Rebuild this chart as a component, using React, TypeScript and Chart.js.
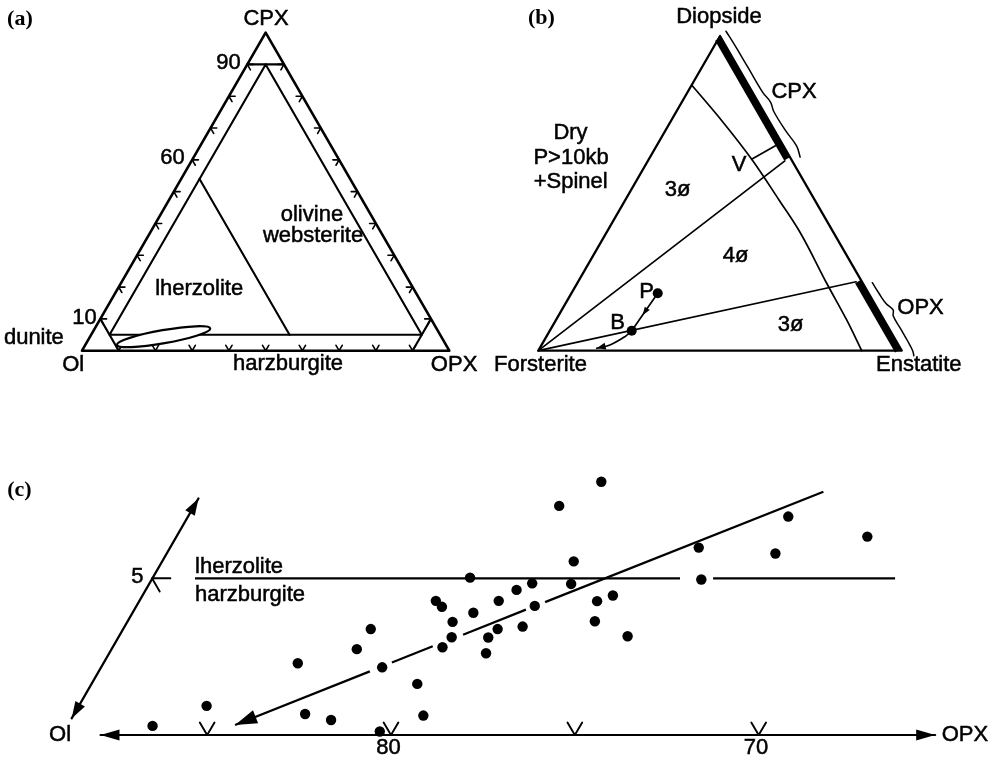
import React, { useEffect, useRef } from "react";
import { Chart, registerables } from "chart.js";

Chart.register(...registerables);

const SQ = Math.sqrt(3) / 2;
const FONT = '"Liberation Sans", Arial, Helvetica, sans-serif';
const SERIF = '"Liberation Serif", "Times New Roman", serif';

// ================= Panel (a): Ol–OPX–CPX ternary, points are [OPX %, CPX %]
const aTriangle = [[0, 0], [100, 0], [0, 100], [0, 0]];
const aCpx90Line = [[0, 90], [10, 90]];
const aInnerTriangle = [[5, 90], [5, 5], [90, 5], [5, 90]]; // OPX=5, CPX=5, Ol=5
const aDuniteLine = [[0, 10], [10, 0]]; // Ol = 90
const aOrthoLine = [[90, 0], [90, 10]]; // OPX = 90
const aLherzoliteLine = [[5, 54], [54, 5]]; // Ol = 41
const aTickValues = [10, 20, 30, 40, 50, 60, 70, 80, 90];
const aEllipse = { opx: 20, cpx: 4.4, major: 12.9, minor: 1.8, angle: -10 };
const aLabels = [
  { t: "(a)", x: -20.4, y: 90.3, align: "left", serif: true },
  { t: "CPX", x: 50.1, y: 90.3 },
  { t: "90", x: 43.2, y: 78.3, align: "right" },
  { t: "60", x: 28.0, y: 52.6, align: "right" },
  { t: "10", x: 4.0, y: 9.0, align: "right" },
  { t: "dunite", x: -13.1, y: 3.6 },
  { t: "Ol", x: -2.4, y: -3.9 },
  { t: "harzburgite", x: 56.1, y: -3.6 },
  { t: "OPX", x: 101.3, y: -3.9 },
  { t: "lherzolite", x: 31.9, y: 16.8 },
  { t: "olivine", x: 62.6, y: 37.0 },
  { t: "websterite", x: 62.9, y: 31.2 },
];

// ================= Panel (b): Fo–En–Di, points are [En %, Di %]
const bTriangle = [[0, 0], [100, 0], [0, 100], [0, 0]];
const bBoundary = [[0, 84.4], [14.06, 72.99], [28.31, 60.82], [42.29, 47.89], [53.75, 37.08], [68.65, 21.42], [79.98, 9.76], [89, 0]];
const bTieCpx = [[0, 0], [37.7, 60.3]];
const bTieOpx = [[0, 0], [76.5, 21.9]];
const bTieV = [[28.3, 60.8], [32.7, 65.1]];
const bCpxBar = [[0, 99], [38, 61]];
const bOpxBar = [[99, 0], [77, 22]];
const bPointP = [23.74, 18.24];
const bPointB = [22.53, 6.35];
const bPathBase = [[22.53, 6.35], [21.6, 4.45], [18.8, 1.81], [15.7, 0.76]];
const bArrowMid = [23.06, 11.34];
const bCpxBrace = [[0.9, 101.5], [5.6, 97], [12.7, 90], [20.8, 82], [24.4, 79], [26.8, 76], [33, 70], [38.6, 65], [41.3, 61.5]];
const bOpxBrace = [[81.1, 21.6], [84.86, 18], [88.18, 15], [91.13, 13], [92.18, 11], [96.18, 7], [100.18, 3], [103.02, 0], [104.14, -1.6]];
const bLabels = [
  { t: "(b)", x: -2.83, y: 91.55, align: "left", serif: true },
  { t: "Diopside", x: 49.72, y: 91.83 },
  { t: "Dry", x: 8.86, y: 59.91 },
  { t: "P>10kb", x: 9.0, y: 53.03 },
  { t: "+Spinel", x: 8.92, y: 46.42 },
  { t: "CPX", x: 70.36, y: 71.27 },
  { t: "V", x: 55.23, y: 51.1 },
  { t: "3ø", x: 38.31, y: 44.22 },
  { t: "4ø", x: 54.27, y: 26.06 },
  { t: "3ø", x: 69.4, y: 7.21 },
  { t: "P", x: 29.77, y: 16.15 },
  { t: "B", x: 21.79, y: 7.76 },
  { t: "OPX", x: 105.17, y: 11.75 },
  { t: "Forsterite", x: 0.61, y: -3.91 },
  { t: "Enstatite", x: 104.7, y: -3.91 },
];

// ================= Panel (c): enlarged Ol corner, points are [Ol %, CPX %]
const cOl = [86.34, 84.55, 81.39, 82.0, 81.39, 80.25, 78.86, 79.56, 79.16, 78.47, 78.81, 76.64, 76.57, 76.52, 76.79, 77.2, 75.34, 75.81, 75.8, 76.11, 75.41, 74.93, 74.27, 74.69, 73.74, 74.03, 71.77, 72.26, 72.69, 70.24, 72.26, 71.74, 72.64, 71.99, 68.64, 69.08, 65.71, 66.65, 63.88];
const cCpx = [0.29, 0.93, 2.29, 0.67, 0.48, 0.11, 3.38, 2.74, 2.16, 1.63, 0.62, 4.28, 4.09, 3.61, 3.12, 2.8, 5.02, 3.9, 3.11, 2.61, 3.38, 4.28, 4.63, 3.46, 4.84, 4.12, 7.31, 5.54, 4.82, 8.08, 4.27, 4.45, 3.63, 3.15, 5.98, 4.96, 6.97, 5.79, 6.33];
const cBaseAxis = [[87.9, 0], [65.2, 0]];
const cDiagAxis = [[88.42, 0.53], [81.46, 7.55]];
const cTrendSegments = [
  [[84.08, 0.32], [79.56, 2.03]],
  [[78.82, 2.31], [77.45, 2.83]],
  [[76.44, 3.2], [74.33, 4.0]],
  [[73.69, 4.24], [64.36, 7.76]],
];
const cBoundarySegments = [
  [[82.83, 5], [69.64, 5]],
  [[68.74, 5], [63.79, 5]],
];
const cAxisTicks = [85, 80, 75, 70];
const cAxisTickLabels = ["", "80", "", "70"];
const cCpxTick = { ol: 84, cpx: 5, label: "5" };
const cLabels = [
  { t: "(c)", x: 9.56, y: 7.82, align: "left", serif: true },
  { t: "lherzolite", x: 14.67, y: 5.37, align: "left" },
  { t: "harzburgite", x: 14.67, y: 4.47, align: "left" },
  { t: "Ol", x: 11.0, y: 0 },
  { t: "OPX", x: 35.61, y: 0 },
];

// ---------------- helpers
type P = { x: number; y: number };
const triA = (p: number[]): P => ({ x: p[0] + p[1] / 2, y: p[1] * SQ });
const triB = triA;
const triC = (p: number[]): P => ({ x: 100 - p[0] - p[1] / 2, y: p[1] });

function line(points: P[], width: number, extra: any = {}) {
  return {
    data: points,
    showLine: true,
    borderColor: "#000",
    borderWidth: width,
    pointRadius: 0,
    pointHoverRadius: 0,
    fill: false,
    tension: 0,
    borderCapStyle: "round",
    borderJoinStyle: "round",
    ...extra,
  };
}

function dots(points: P[], r: number) {
  return {
    data: points,
    showLine: false,
    pointRadius: r,
    pointHoverRadius: r,
    pointBackgroundColor: "#000",
    pointBorderWidth: 0,
    pointBorderColor: "#000",
  };
}

function labelPlugin(labels: any[]) {
  return {
    id: "labels",
    afterDatasetsDraw(chart: any) {
      const { ctx, scales } = chart;
      ctx.save();
      ctx.fillStyle = "#000";
      ctx.strokeStyle = "#000";
      ctx.lineWidth = 0.5;
      ctx.textBaseline = "middle";
      for (const l of labels) {
        ctx.font = l.serif ? `bold 22px ${SERIF}` : `22px ${FONT}`;
        ctx.textAlign = l.align || "center";
        const px = scales.x.getPixelForValue(l.x);
        const py = scales.y.getPixelForValue(l.y);
        ctx.fillText(l.t, px, py);
        if (!l.serif) ctx.strokeText(l.t, px, py);
      }
      ctx.restore();
    },
  };
}

function arrowPlugin(arrows: { tip: P; from: P; len: number; half: number }[]) {
  return {
    id: "arrows",
    afterDatasetsDraw(chart: any) {
      const { ctx, scales } = chart;
      ctx.save();
      ctx.fillStyle = "#000";
      for (const a of arrows) {
        const tx = scales.x.getPixelForValue(a.tip.x);
        const ty = scales.y.getPixelForValue(a.tip.y);
        const fx = scales.x.getPixelForValue(a.from.x);
        const fy = scales.y.getPixelForValue(a.from.y);
        const d = Math.hypot(tx - fx, ty - fy) || 1;
        const ux = (tx - fx) / d;
        const uy = (ty - fy) / d;
        const bx = tx - ux * a.len;
        const by = ty - uy * a.len;
        ctx.beginPath();
        ctx.moveTo(tx, ty);
        ctx.lineTo(bx - uy * a.half, by + ux * a.half);
        ctx.lineTo(bx + uy * a.half, by - ux * a.half);
        ctx.closePath();
        ctx.fill();
      }
      ctx.restore();
    },
  };
}

function baseOptions(xmin: number, xmax: number, ymin: number, ymax: number) {
  return {
    animation: false,
    responsive: false,
    events: [],
    layout: { padding: 0, autoPadding: false },
    plugins: { legend: { display: false }, tooltip: { enabled: false } },
    scales: {
      x: { type: "linear", display: false, min: xmin, max: xmax },
      y: { type: "linear", display: false, min: ymin, max: ymax },
    },
  };
}

// ---------------- panel configs
function makeA(): any {
  const TICK = 1.7;
  const ds: any[] = [];
  ds.push(line(aTriangle.map(triA), 2.6));
  ds.push(line(aCpx90Line.map(triA), 2.2));
  ds.push(line(aInnerTriangle.map(triA), 2.1));
  ds.push(line(aDuniteLine.map(triA), 2.1));
  ds.push(line(aOrthoLine.map(triA), 2.1));
  ds.push(line(aLherzoliteLine.map(triA), 2.1));
  for (const c of aTickValues) {
    ds.push(line([[TICK, c], [0, c], [TICK, c - TICK]].map(triA), 1.6));
    ds.push(line([[100 - c - TICK, c], [100 - c, c], [100 - c, c - TICK]].map(triA), 1.6));
    ds.push(line([[c - TICK, TICK], [c, 0], [c, TICK]].map(triA), 1.6));
  }
  const ellipsePlugin = {
    id: "ellipse",
    afterDatasetsDraw(chart: any) {
      const { ctx, scales } = chart;
      const c = triA([aEllipse.opx, aEllipse.cpx]);
      const cx = scales.x.getPixelForValue(c.x);
      const cy = scales.y.getPixelForValue(c.y);
      const unit = Math.abs(scales.x.getPixelForValue(1) - scales.x.getPixelForValue(0));
      ctx.save();
      ctx.beginPath();
      ctx.ellipse(cx, cy, aEllipse.major * unit, aEllipse.minor * unit, (aEllipse.angle * Math.PI) / 180, 0, Math.PI * 2);
      ctx.fillStyle = "#fff";
      ctx.fill();
      ctx.lineWidth = 2.3;
      ctx.strokeStyle = "#000";
      ctx.stroke();
      ctx.restore();
    },
  };
  return {
    type: "scatter",
    data: { datasets: ds },
    options: baseOptions(-22.325, 111.08, -13.42, 95.48),
    plugins: [ellipsePlugin, labelPlugin(aLabels)],
  };
}

function makeB(): any {
  const ds: any[] = [];
  ds.push(dots([triB(bPointP), triB(bPointB)], 5));
  ds.push(line(bTriangle.map(triB), 2.3));
  ds.push(line(bBoundary.map(triB), 1.7, { tension: 0.35 }));
  ds.push(line(bTieCpx.map(triB), 1.7));
  ds.push(line(bTieOpx.map(triB), 1.7));
  ds.push(line(bTieV.map(triB), 1.7));
  ds.push(line(bCpxBar.map(triB), 7, { borderCapStyle: "butt" }));
  ds.push(line(bOpxBar.map(triB), 7, { borderCapStyle: "butt" }));
  ds.push(line([bPointP, bPointB].map(triB), 1.7));
  ds.push(line(bPathBase.map(triB), 1.7, { tension: 0.4 }));
  ds.push(line(bCpxBrace.map(triB), 1.5, { tension: 0.4 }));
  ds.push(line(bOpxBrace.map(triB), 1.5, { tension: 0.4 }));
  const last = bPathBase[bPathBase.length - 1];
  const prev = bPathBase[bPathBase.length - 2];
  const arrows = [
    { tip: triB(bArrowMid), from: triB(bPointP), len: 8, half: 3 },
    { tip: triB(last), from: triB(prev), len: 9, half: 3.5 },
  ];
  return {
    type: "scatter",
    data: { datasets: ds },
    options: baseOptions(-13.29, 125.12, -13.57, 96.5),
    plugins: [arrowPlugin(arrows), labelPlugin(bLabels)],
  };
}

function makeC(): any {
  const ds: any[] = [];
  const pts = cOl.map((o, i) => triC([o, cCpx[i]]));
  ds.push(dots(pts, 5.2));
  ds.push(line(cBaseAxis.map(triC), 2.2));
  ds.push(line(cDiagAxis.map(triC), 2.2));
  for (const s of cTrendSegments) ds.push(line(s.map(triC), 2.2, { borderCapStyle: "butt" }));
  for (const s of cBoundarySegments) ds.push(line(s.map(triC), 2.2, { borderCapStyle: "butt" }));
  const ARM = 0.4;
  for (const o of cAxisTicks) {
    ds.push(line([[o, ARM], [o, 0], [o - ARM, ARM]].map(triC), 1.9));
  }
  ds.push(
    line(
      [[cCpxTick.ol - 0.5, cCpxTick.cpx], [cCpxTick.ol, cCpxTick.cpx], [cCpxTick.ol, cCpxTick.cpx - 0.42]].map(triC),
      1.9
    )
  );
  const tickLabels = cAxisTicks
    .map((o, i) => ({ t: cAxisTickLabels[i], x: triC([o, 0]).x - 0.07, y: -0.42 }))
    .filter((l) => l.t);
  const cpxTickLabel = { t: cCpxTick.label, x: triC([cCpxTick.ol, cCpxTick.cpx]).x - 0.4, y: cCpxTick.cpx + 0.03 };
  const trendStart = cTrendSegments[0][0];
  const trendEnd = cTrendSegments[cTrendSegments.length - 1][1];
  const arrows = [
    { tip: triC(cBaseAxis[0]), from: triC(cBaseAxis[1]), len: 19, half: 5.5 },
    { tip: triC(cBaseAxis[1]), from: triC(cBaseAxis[0]), len: 19, half: 5.5 },
    { tip: triC(cDiagAxis[0]), from: triC(cDiagAxis[1]), len: 17, half: 5.5 },
    { tip: triC(cDiagAxis[1]), from: triC(cDiagAxis[0]), len: 17, half: 5.5 },
    { tip: triC(trendStart), from: triC(trendEnd), len: 22, half: 7 },
  ];
  return {
    type: "scatter",
    data: { datasets: ds },
    options: baseOptions(9.366, 36.373, -0.702, 10.689),
    plugins: [arrowPlugin(arrows), labelPlugin([...cLabels, ...tickLabels, cpxTickLabel])],
  };
}

function Panel(props: { left: number; top: number; width: number; height: number; make: () => any }) {
  const ref = useRef<HTMLCanvasElement>(null);
  useEffect(() => {
    const chart = new Chart(ref.current as HTMLCanvasElement, props.make());
    return () => chart.destroy();
  }, [props.make]);
  return (
    <canvas
      ref={ref}
      width={props.width}
      height={props.height}
      style={{ position: "absolute", left: props.left, top: props.top, width: props.width, height: props.height }}
    />
  );
}

export default function App() {
  return (
    <div style={{ position: "absolute", left: 0, top: 0, width: 993, height: 757, background: "#fff", overflow: "hidden" }}>
      <Panel left={0} top={0} width={490} height={400} make={makeA} />
      <Panel left={490} top={0} width={503} height={400} make={makeB} />
      <Panel left={0} top={400} width={993} height={357} make={makeC} />
    </div>
  );
}
